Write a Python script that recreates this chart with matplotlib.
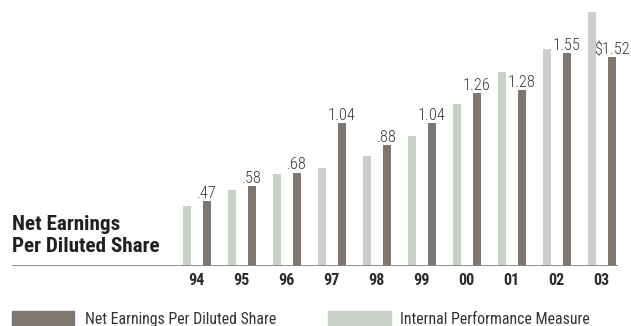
import numpy as np
import matplotlib.pyplot as plt
from matplotlib.patches import Rectangle

# Yearly values
years = ['94', '95', '96', '97', '98', '99', '00', '01', '02', '03']
eps = [0.47, 0.58, 0.68, 1.04, 0.88, 1.04, 1.26, 1.28, 1.55, 1.52]
internal = [0.44, 0.55, 0.67, 0.71, 0.80, 0.945, 1.18, 1.41, 1.58, 1.85]
eps_labels = ['.47', '.58', '.68', '1.04', '.88', '1.04', '1.26', '1.28', '1.55', '$1.52']

dark = '#7e7670'
light = '#c9d0c7'
text_dark = '#231f20'
cond = ['Roboto Condensed', 'PT Sans Narrow', 'DejaVu Sans']

W, H = 631, 326
fig = plt.figure(figsize=(W / 100, H / 100), dpi=100)

# axes spans the baseline rule; x in group units (45 px per year)
ax = fig.add_axes([12 / W, 60 / H, 606 / W, 266 / H])
ax.set_xlim(-4.104, 9.362)
ax.set_ylim(0, 266 / 137.5)
ax.axis('off')

x = np.arange(len(years))
bw = 8 / 45
off = 10 / 45
ax.bar(x - off, internal, width=bw, color=light, zorder=2)
ax.bar(x + off, eps, width=bw, color=dark, zorder=2)
ax.axhline(0, color='#8c847e', linewidth=1.3, zorder=3)

for xi, v, lab in zip(x, eps, eps_labels):
    ax.annotate(lab, (xi + off, v), xytext=(0, 2.2), textcoords='offset points',
                ha='center', va='baseline', fontsize=11.8, family=cond,
                fontweight='light', color='#3a3a3a')

for xi, yr in zip(x, years):
    ax.annotate(yr, (xi, 0), xytext=(0, -13.5), textcoords='offset points',
                ha='center', va='baseline', fontsize=11.5, fontweight='bold',
                family=cond, color='#2e2b2a')


def fy(px):
    return 1 - px / H


# Title block
fig.text(12 / W, fy(229.5), 'Net Earnings', fontsize=15.2, fontweight='bold',
         family=cond, color=text_dark, va='baseline')
fig.text(12 / W, fy(252), 'Per Diluted Share', fontsize=15.2, fontweight='bold',
         family=cond, color=text_dark, va='baseline')

# Legend swatches along the bottom edge
fig.patches.append(Rectangle((12 / W, fy(330)), 62 / W, 19 / H,
                             transform=fig.transFigure, color=dark))
fig.text(85 / W, fy(324), 'Net Earnings Per Diluted Share', fontsize=11.4,
         family=cond, color='#333333', va='baseline')
fig.patches.append(Rectangle((328 / W, fy(330)), 63 / W, 19 / H,
                             transform=fig.transFigure, color=light))
fig.text(400 / W, fy(324), 'Internal Performance Measure', fontsize=11.4,
         family=cond, color='#333333', va='baseline')

fig.savefig('out.png', dpi=100)
